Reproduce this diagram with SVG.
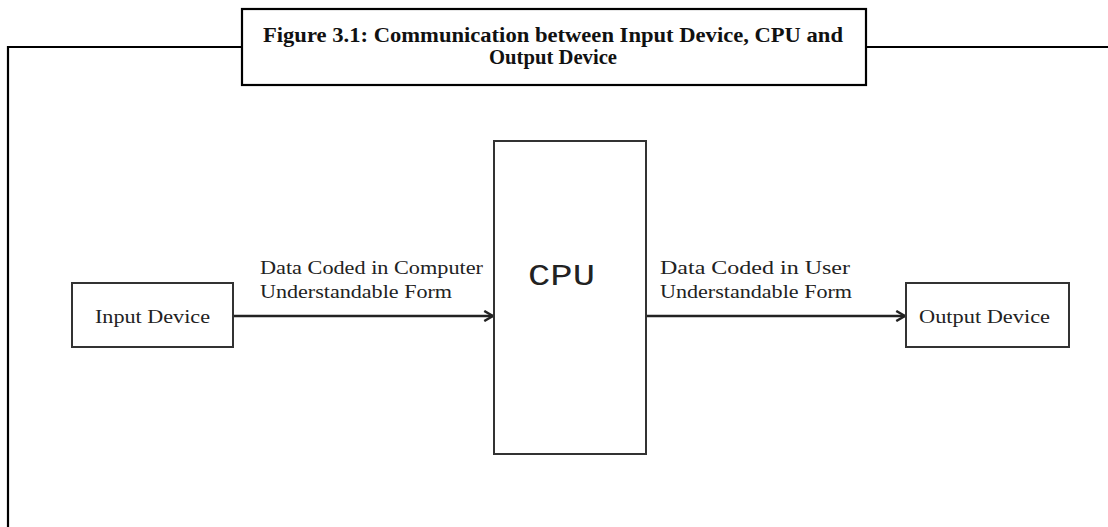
<svg xmlns="http://www.w3.org/2000/svg" width="1108" height="527" viewBox="0 0 1108 527">
<style>
.box{fill:#fff;stroke:#333;stroke-width:2}
.frame{fill:none;stroke:#000;stroke-width:2.2}
.t{font-family:"Liberation Serif",serif;font-size:18px;fill:#222}
.title{font-family:"Liberation Serif",serif;font-size:20.5px;font-weight:bold;fill:#111;text-anchor:middle}
.cpu{font-family:"Liberation Mono",monospace;font-size:30px;fill:#222}
.conn{stroke:#222;stroke-width:2.5;fill:none}
</style>
<defs>
<marker id="arr" viewBox="0 0 10 10" refX="9" refY="5" markerWidth="5" markerHeight="5" orient="auto" markerUnits="strokeWidth">
<path d="M2,1 L9,5 L2,9" fill="none" stroke="#222" stroke-width="2"/>
</marker>
</defs>
<rect width="1108" height="527" fill="#fff"/>
<g id="frame">
<path class="frame" d="M8,527 V47 H242 M866,47 H1108"/>
</g>
<g id="title">
<rect x="242" y="9" width="624" height="76" fill="#fff" stroke="#000" stroke-width="2.2"/>
<text class="title" x="553" y="42" textLength="580" lengthAdjust="spacingAndGlyphs">Figure 3.1: Communication between Input Device, CPU and</text>
<text class="title" x="553" y="64" textLength="128" lengthAdjust="spacingAndGlyphs">Output Device</text>
</g>
<g id="connectors">
<line class="conn" x1="234" y1="316" x2="493" y2="316" marker-end="url(#arr)"/>
<line class="conn" x1="646" y1="316" x2="905" y2="316" marker-end="url(#arr)"/>
<text class="t" x="260" y="274" textLength="223" lengthAdjust="spacingAndGlyphs">Data Coded in Computer</text>
<text class="t" x="260" y="298" textLength="192" lengthAdjust="spacingAndGlyphs">Understandable Form</text>
<text class="t" x="660" y="274" textLength="190" lengthAdjust="spacingAndGlyphs">Data Coded in User</text>
<text class="t" x="660" y="298" textLength="192" lengthAdjust="spacingAndGlyphs">Understandable Form</text>
</g>
<g id="input-device">
<rect class="box" x="72" y="283" width="161" height="64"/>
<text class="t" x="95" y="323" textLength="115" lengthAdjust="spacingAndGlyphs">Input Device</text>
</g>
<g id="cpu">
<rect class="box" x="494" y="141" width="152" height="313"/>
<text class="cpu" x="528" y="285" textLength="67" lengthAdjust="spacingAndGlyphs">CPU</text>
</g>
<g id="output-device">
<rect class="box" x="906" y="283" width="163" height="64"/>
<text class="t" x="919" y="323" textLength="131" lengthAdjust="spacingAndGlyphs">Output Device</text>
</g>
</svg>
